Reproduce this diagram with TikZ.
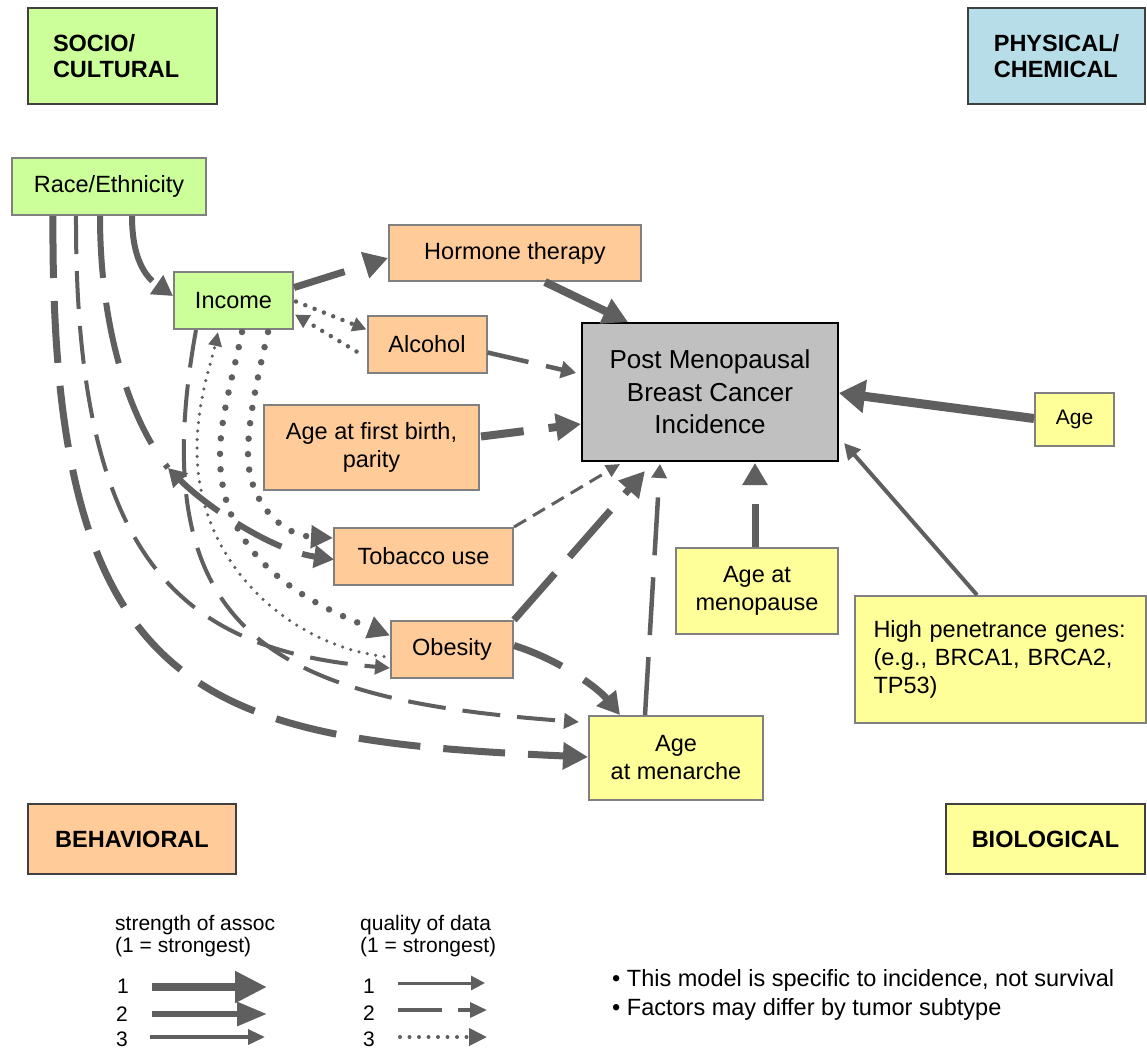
\documentclass[tikz,border=0pt]{standalone}
\usepackage{fontspec}
\setmainfont{Liberation Sans}
\usetikzlibrary{arrows.meta,calc}
\definecolor{lc}{HTML}{5F5F5F}
\definecolor{cgreen}{HTML}{CCFF99}
\definecolor{corange}{HTML}{FFCC99}
\definecolor{cyellow}{HTML}{FFFF99}
\definecolor{cblue}{HTML}{B7DEE8}
\definecolor{cgray}{HTML}{C0C0C0}
\definecolor{bgray}{HTML}{808080}
\definecolor{bdark}{HTML}{404040}
\begin{document}
\begin{tikzpicture}[x=1pt,y=-1pt,
  box/.style={draw=bgray, line width=2pt, align=center, inner sep=0pt,
    font=\fontsize{23.5}{28}\selectfont},
  cat/.style={draw=bdark, line width=2.2pt, inner sep=0pt,
    font=\bfseries\fontsize{23.5}{26}\selectfont},
  legtext/.style={inner sep=0pt, align=left, font=\fontsize{21}{22.5}\selectfont},
  conn/.style={draw=lc, line cap=butt},
  tri/.style 2 args={-{Triangle[length=#1,width=#2]}},
  dpat/.style 2 args={dash pattern=on #1 off #2},
  dots/.style={line cap=round, dash pattern=on 0pt off #1}]
\useasboundingbox (0,0) rectangle (1147,1050);
\fill[white] (0,0) rectangle (1147,1050);

% category boxes
\node[cat, fill=cgreen, minimum width=189pt, minimum height=96pt, text width=139pt, align=left] (socio) at (122.5,56) {SOCIO/\\CULTURAL};
\node[cat, fill=cblue, minimum width=177pt, minimum height=96pt, align=left] (phys) at (1056.5,56) {PHYSICAL/\\CHEMICAL};
\node[cat, fill=corange, minimum width=208pt, minimum height=70pt] (behav) at (132,839) {BEHAVIORAL};
\node[cat, fill=cyellow, minimum width=199pt, minimum height=70pt] (bio) at (1045.5,839) {BIOLOGICAL};

% factor boxes
\node[box, fill=cgreen, minimum width=194pt, minimum height=57pt] (race) at (109,186.5) {Race/Ethnicity};
\node[box, fill=cgreen, minimum width=119pt, minimum height=57pt] (income) at (233.5,300.5) {Income};
\node[box, fill=corange, minimum width=252pt, minimum height=56pt] (hormone) at (515,253) {Hormone therapy};
\node[box, fill=corange, minimum width=119pt, minimum height=57pt] (alcohol) at (427,344.5) {Alcohol};
\node[box, fill=corange, minimum width=215pt, minimum height=85pt] (birth) at (371.5,447.5) {Age at first birth,\\parity};
\node[box, fill=corange, minimum width=179pt, minimum height=57pt] (tobacco) at (423.5,556.5) {Tobacco use};
\node[box, fill=corange, minimum width=122pt, minimum height=57pt] (obesity) at (452,649.5) {Obesity};
\node[box, draw=black, fill=cgray, minimum width=256pt, minimum height=138pt, font=\fontsize{26}{32.5}\selectfont] (pmbci) at (710,392) {Post Menopausal\\Breast Cancer\\Incidence};
\node[box, fill=cyellow, minimum width=79pt, minimum height=53pt, font=\fontsize{21}{25}\selectfont] (age) at (1074.5,419.5) {Age};
\node[box, fill=cyellow, minimum width=162pt, minimum height=86pt] (menopause) at (757,591) {Age at\\menopause};
\node[box, fill=cyellow, minimum width=291pt, minimum height=127pt, text width=254pt, align=left] (genes) at (1000.5,659.5) {High penetrance genes:\\(e.g., BRCA1, BRCA2,\\TP53)};
\node[box, fill=cyellow, minimum width=174pt, minimum height=84pt] (menarche) at (676,758) {Age\\at menarche};

% connectors
\draw[conn, line width=6pt, dpat={70pt}{30pt}, tri={20pt}{22pt}] ($(race.south)+(23,0)$) .. controls (132,265) and (150,280) .. ($(income.west)+(0,-4.5)$);
\draw[conn, line width=7pt, dpat={53pt}{40pt}, tri={24pt}{26pt}] ($(income.east)+(0,-13)$) -- ($(hormone.west)+(0,5)$);
\draw[conn, line width=4.5pt, dots={10pt}, tri={14pt}{14pt}] ($(income.east)+(2,1)$) -- ($(alcohol.west)+(0,-15)$);
\draw[conn, line width=4.5pt, dots={10pt}, tri={14pt}{14pt}] ($(alcohol.west)+(-10,7)$) -- ($(income.east)+(1,14)$);
\draw[conn, line width=8pt, tri={25pt}{26pt}] ($(hormone.south)+(30,0)$) -- ($(pmbci.north)+(-82,0)$);
\draw[conn, line width=4.5pt, dpat={42pt}{18pt}, tri={15pt}{17pt}] ($(alcohol.east)+(0,8)$) -- ($(pmbci.west)+(-5,-19)$);
\draw[conn, line width=8pt, dpat={43pt}{25pt}, tri={25pt}{26pt}] ($(birth.east)+(1,-11)$) -- ($(pmbci.west)+(0,32)$);
\draw[conn, line width=3pt, dpat={14pt}{8pt}, tri={14pt}{13pt}] (tobacco.north east) -- ($(pmbci.south)+(-90,2)$);
\draw[conn, line width=7pt, dpat={62pt}{22pt}, tri={25pt}{26pt}] (obesity.north east) -- ($(pmbci.south)+(-65,9)$);
\draw[conn, line width=4.5pt, dpat={58pt}{22pt}, tri={14pt}{15pt}] ($(menarche.north)+(-31,0)$) -- ($(pmbci.south)+(-50,2)$);
\draw[conn, line width=7pt, dpat={43pt}{30pt}, tri={22pt}{24pt}] ($(menopause.north)+(-2,0)$) -- ($(pmbci.south)+(45,1)$);
\draw[conn, line width=9pt, tri={26pt}{32pt}] ($(age.west)+(0,-1)$) -- ($(pmbci.east)+(0,1)$);
\draw[conn, line width=4pt, tri={16pt}{16pt}] ($(genes.north)+(-23.5,0)$) -- ($(pmbci.east)+(5,51)$);
\draw[conn, line width=7pt, dpat={52pt}{26pt}, tri={22pt}{24pt}] ($(obesity.east)+(0,-4)$) .. controls (560,660) and (598,688) .. ($(menarche.north)+(-56,0)$);
\draw[conn, line width=7pt, dpat={62pt}{23pt}, tri={25pt}{26pt}] ($(race.south)+(-56,0)$) .. controls (50,700) and (200,740) .. ($(menarche.west)+(0,-1)$);
\draw[conn, line width=4pt, dpat={38pt}{17pt}, tri={15pt}{15pt}] ($(race.south)+(-33,0)$) .. controls (75,560) and (180,650) .. ($(obesity.west)+(0,18.5)$);
\draw[conn, line width=4pt, dpat={38pt}{17pt}, tri={15pt}{15pt}] ($(income.south)+(-37.5,0)$) .. controls (140,640) and (280,700) .. ($(menarche.west)+(-9,-36)$);
\coordinate (kink) at (168,468);
\draw[conn, line width=6pt, dpat={62pt}{25pt}] ($(race.south)+(-9,0)$) .. controls (100,330) and (130,420) .. (kink);
\draw[conn, line width=6pt, dpat={50pt}{22pt}, {Triangle[length=18pt,width=20pt]}-{Triangle[length=20pt,width=22pt]}] (kink) .. controls (205,505) and (270,550) .. ($(tobacco.west)+(1,3)$);
\draw[conn, line width=6.5pt, dots={15.5pt}, tri={22pt}{22pt}] ($(income.south)+(8.5,2)$) .. controls (232,380) and (220,420) .. (220,455) .. controls (220,555) and (300,600) .. ($(obesity.west)+(0,-14)$);
\draw[conn, line width=6.5pt, dots={15.5pt}, tri={22pt}{22pt}] ($(income.south)+(34.5,2)$) .. controls (257,380) and (248,420) .. (248,455) .. controls (248,500) and (280,535) .. ($(tobacco.west)+(0,-18.5)$);
\draw[conn, line width=3.5pt, dots={8.5pt}, tri={14pt}{13pt}] ($(obesity.west)+(-6,7)$) .. controls (290,645) and (197,564) .. (197,450) .. controls (197,400) and (212,360) .. ($(income.south)+(-15.5,2)$);

% legend
\node[legtext, anchor=west] (lh1) at (115,936) {strength of assoc\\(1 = strongest)};
\node[legtext, anchor=west] (lh2) at (360,936) {quality of data\\(1 = strongest)};
\node[legtext] (n1) at (123,986) {1};
\node[legtext] (n2) at (122,1014) {2};
\node[legtext] (n3) at (122,1039) {3};
\node[legtext] (m1) at (369,986) {1};
\node[legtext] (m2) at (369,1013) {2};
\node[legtext] (m3) at (369,1039) {3};
\coordinate (a1s) at (152,987); \coordinate (a1e) at (267,987);
\coordinate (a2s) at (152,1014); \coordinate (a2e) at (267,1014);
\coordinate (a3s) at (150,1037); \coordinate (a3e) at (265,1037);
\coordinate (b1s) at (398,983); \coordinate (b1e) at (485,983);
\coordinate (b2s) at (398,1010); \coordinate (b2e) at (487,1010);
\coordinate (b3s) at (400,1037); \coordinate (b3e) at (487,1037);
\draw[conn, line width=8pt, tri={32pt}{30pt}] (a1s) -- (a1e);
\draw[conn, line width=6pt, tri={30pt}{23pt}] (a2s) -- (a2e);
\draw[conn, line width=3.5pt, tri={17pt}{15pt}] (a3s) -- (a3e);
\draw[conn, line width=3pt, tri={14pt}{14pt}] (b1s) -- (b1e);
\draw[conn, line width=3.5pt, dpat={44pt}{16pt}, tri={17pt}{15pt}] (b2s) -- (b2e);
\draw[conn, line width=4pt, dots={9.5pt}, tri={18pt}{17pt}] (b3s) -- (b3e);
\node[anchor=west, inner sep=0pt, align=left, font=\fontsize{23.5}{29}\selectfont] (notes) at (612,995) {• This model is specific to incidence, not survival\\• Factors may differ by tumor subtype};
\end{tikzpicture}
\end{document}
